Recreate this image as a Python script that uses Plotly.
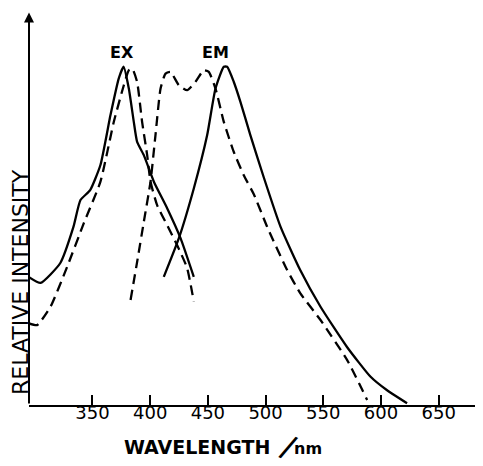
import plotly.graph_objects as go

# Excitation, solid
ex_solid_wl = [295, 305, 322, 333.5, 339.6, 348, 356.9, 365.6, 372.8, 377, 381.5, 385.8, 388.7, 394.5, 403.2, 414.7, 426.3, 437.8]
ex_solid_i = [37.6, 35.9, 41.7, 52.4, 60.3, 63.2, 70.6, 85.3, 96.1, 99.5, 93.1, 83.3, 77.4, 73.5, 65.7, 57.9, 49.1, 37.7]

# Excitation, dashed
ex_dash_wl = [295, 302, 313.6, 328, 342.5, 356.9, 368.5, 377.1, 381.5, 384.4, 388.7, 393, 397.4, 400.3, 406, 414.7, 423.4, 432, 437.8]
ex_dash_i = [24, 23.5, 28.9, 40.6, 53.5, 65.7, 83.3, 94, 98.5, 99, 95, 83.3, 73.5, 65.7, 58.8, 52.9, 47, 40.3, 30.4]

# Emission, dashed
em_dash_wl = [383, 388.7, 394.5, 400.3, 404.6, 409, 413.3, 417.6, 424.8, 432, 439.3, 446.4, 450.8, 456.6, 463.8, 472.4, 481.1, 489.8, 501.4, 518.7, 530, 547.6, 570.7, 588]
em_dash_i = [30.9, 42.1, 53.9, 65.7, 79.4, 93.1, 97.5, 98, 94.1, 92.6, 95.1, 98.5, 98, 93.1, 83.3, 74.5, 67.6, 62, 52.4, 39.7, 32.9, 25, 13.2, 1.5]

# Emission, solid
em_solid_wl = [411.8, 424.8, 437.8, 449.4, 456.6, 463.8, 466.7, 472.4, 478.2, 486.8, 498.4, 513, 530, 547.6, 570.7, 591, 605, 622.6]
em_solid_i = [37.7, 49, 63.7, 79.4, 93.1, 99.5, 99.5, 95.1, 89.2, 79.4, 67, 52.4, 39.7, 28.9, 17, 8.3, 4.4, 0.5]

x_ticks = [350, 400, 450, 500, 550, 600, 650]
x_tick_labels = ["350", "400", "450", "500", "550", "600", "650"]

FONT = "DejaVu Sans"
fig = go.Figure()

solid = dict(color="black", width=2.3, shape="spline", smoothing=0.5)
dashed = dict(color="black", width=2.3, shape="spline", smoothing=0.5, dash="10px,6px")

fig.add_trace(go.Scatter(x=ex_solid_wl, y=ex_solid_i, mode="lines", line=solid))
fig.add_trace(go.Scatter(x=ex_dash_wl, y=ex_dash_i, mode="lines", line=dashed))
fig.add_trace(go.Scatter(x=em_dash_wl, y=em_dash_i, mode="lines", line=dashed))
fig.add_trace(go.Scatter(x=em_solid_wl, y=em_solid_i, mode="lines", line=solid))

# The page body has an 8px default margin, so the figure is 8px smaller each way.
x0 = 295
x1 = 688.4
fig.update_layout(
    width=475, height=458,
    margin=dict(l=21, r=0, t=2, b=61, autoexpand=False),
    paper_bgcolor="white", plot_bgcolor="white",
    showlegend=False,
    xaxis=dict(range=[x0, x1], showgrid=False, zeroline=False, showline=True,
               linecolor="black", linewidth=2, ticks="inside", ticklen=10,
               tickwidth=1.5, tickcolor="black", tickvals=x_ticks,
               ticktext=x_tick_labels, ticklabelstandoff=-10, automargin=False,
               tickfont=dict(family=FONT, size=18, color="black")),
    yaxis=dict(range=[0, 116.2], showgrid=False, zeroline=False, showline=False,
               showticklabels=False, ticks="", automargin=False),
)

# y axis with arrow
fig.add_annotation(x=x0, y=115.5, ax=x0, ay=0, xref="x", yref="y", axref="x", ayref="y",
                   showarrow=True, arrowhead=2, arrowsize=1.0, arrowwidth=2, arrowcolor="black", text="")

lab = dict(family=FONT, size=16, color="black", weight="bold")
fig.add_annotation(x=376, y=103.8, text="EX", showarrow=False, xref="x", yref="y",
                   xanchor="center", yanchor="middle", font=lab)
fig.add_annotation(x=456.5, y=103.8, text="EM", showarrow=False, xref="x", yref="y",
                   xanchor="center", yanchor="middle", font=lab)

def px(xp, yp):
    # reference-pixel position -> axis-domain fraction
    return (xp - 29) / 454, (405 - yp) / 395

ax_, ay_ = px(20, 282)
fig.add_annotation(xref="x domain", yref="y domain", x=ax_, y=ay_, text="RELATIVE INTENSITY",
                   textangle=-90, showarrow=False, xanchor="center", yanchor="middle",
                   font=dict(family=FONT, size=22, color="black"))

wx, wy = px(197, 447)
fig.add_annotation(xref="x domain", yref="y domain", x=wx, y=wy, text="WAVELENGTH",
                   showarrow=False, xanchor="center", yanchor="middle",
                   font=dict(family=FONT, size=19, color="black", weight="bold"))
sx, sy = px(288, 448)
fig.add_annotation(xref="x domain", yref="y domain", x=sx, y=sy, text="/", textangle=25,
                   showarrow=False, xanchor="center", yanchor="middle",
                   font=dict(family="Liberation Sans", size=35, color="black"))
nx, ny = px(308, 449)
fig.add_annotation(xref="x domain", yref="y domain", x=nx, y=ny, text="nm",
                   showarrow=False, xanchor="center", yanchor="middle",
                   font=dict(family=FONT, size=16, color="black", weight="bold"))

fig.write_html("out.html")
